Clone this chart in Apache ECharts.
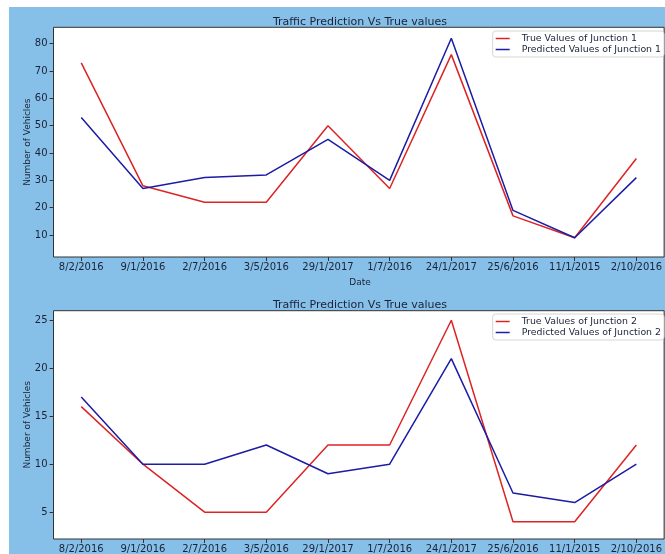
<!DOCTYPE html>
<html>
<head>
<meta charset="utf-8">
<script src="https://cdn.jsdelivr.net/npm/echarts@6/dist/echarts.min.js"></script>
<style>
  html, body { margin: 0; padding: 0; background: #ffffff; }
  #chart { width: 665px; height: 554px; }
</style>
</head>
<body>
<div id="chart"></div>
<script>
// Dates shown along both x axes
const dates = ['8/2/2016', '9/1/2016', '2/7/2016', '3/5/2016', '29/1/2017',
               '1/7/2016', '24/1/2017', '25/6/2016', '11/1/2015', '2/10/2016'];

// Junction 1
const trueJ1 = [73, 28, 22, 22, 50, 27, 76, 17, 9, 38];
const predJ1 = [53, 27, 31, 32, 45, 30, 82, 19, 9, 31];

// Junction 2
const trueJ2 = [16, 10, 5, 5, 12, 12, 25, 4, 4, 12];
const predJ2 = [17, 10, 10, 12, 9, 10, 21, 7, 6, 10];

// Tick values for each y axis
const yTicksJ1 = [10, 20, 30, 40, 50, 60, 70, 80];
const yTicksJ2 = [5, 10, 15, 20, 25];

const chartTitle = 'Traffic Prediction Vs True values';
const yName = 'Number of Vehicles';
const xName = 'Date';

const RED = '#dc2424';
const BLUE = '#1c1ca4';
const TEXT = '#1a2238';
const FONT = 'DejaVu Sans';

const xIdx = dates.map((_, i) => i);
const pairs = vals => vals.map((v, i) => [i, v]);

function xAxis(gridIndex) {
  return {
    type: 'value', gridIndex, min: -0.45, max: 9.45,
    splitLine: { show: false },
    axisLine: { show: false, onZero: false },
    axisTick: { show: true, length: 4, customValues: xIdx, lineStyle: { color: '#333' } },
    axisLabel: {
      customValues: xIdx, formatter: v => dates[Math.round(v)],
      color: TEXT, fontFamily: FONT, fontSize: 10, margin: 5
    }
  };
}

function yAxis(gridIndex, min, max, ticks) {
  return {
    type: 'value', gridIndex, min, max,
    splitLine: { show: false },
    axisLine: { show: false, onZero: false },
    axisTick: { show: true, length: 4, customValues: ticks, lineStyle: { color: '#333' } },
    axisLabel: { customValues: ticks, color: TEXT, fontFamily: FONT, fontSize: 10, margin: 6 },
    name: yName, nameLocation: 'middle', nameGap: 21, nameRotate: 90, nameMoveOverlap: false,
    nameTextStyle: { color: TEXT, fontFamily: FONT, fontSize: 9 }
  };
}

function line(name, data, color, idx) {
  return {
    type: 'line', name, data: pairs(data), xAxisIndex: idx, yAxisIndex: idx,
    showSymbol: false, symbol: 'none', animation: false,
    lineStyle: { color, width: 1.5 }, itemStyle: { color }
  };
}

function legend(top, names) {
  return {
    orient: 'vertical', right: 1, top, data: names,
    icon: 'rect', itemWidth: 14, itemHeight: 1.5, itemGap: 2,
    backgroundColor: '#ffffff', borderColor: '#d6d6d6', borderWidth: 1, borderRadius: 3,
    padding: [3, 3, 3, 3],
    textStyle: { color: TEXT, fontFamily: FONT, fontSize: 9.4, padding: [0, 0, 0, 7] }
  };
}

const chart = echarts.init(document.getElementById('chart'), null, { renderer: 'canvas' });

chart.setOption({
  backgroundColor: '#ffffff',
  animation: false,
  graphic: [{
    type: 'rect', z: -100, silent: true,
    shape: { x: 9, y: 7, width: 656, height: 547 },
    style: { fill: '#86c0e8' }
  }],
  title: [
    { text: chartTitle, left: 355, top: 12, textAlign: 'center',
      textStyle: { color: TEXT, fontFamily: FONT, fontSize: 11, fontWeight: 'normal' } },
    { text: chartTitle, left: 355, top: 295, textAlign: 'center',
      textStyle: { color: TEXT, fontFamily: FONT, fontSize: 11, fontWeight: 'normal' } },
    { text: xName, left: 355, top: 273, textAlign: 'center',
      textStyle: { color: TEXT, fontFamily: FONT, fontSize: 9, fontWeight: 'normal' } }
  ],
  legend: [
    legend(31, ['True Values of Junction 1', 'Predicted Values of Junction 1']),
    legend(314, ['True Values of Junction 2', 'Predicted Values of Junction 2'])
  ],
  grid: [
    { left: 53.5, top: 27.3, width: 612.5, height: 229.7, show: true,
      backgroundColor: '#ffffff', borderColor: '#333', borderWidth: 1 },
    { left: 53.5, top: 310.7, width: 612.5, height: 236.3, show: true,
      backgroundColor: '#ffffff', borderColor: '#333', borderWidth: 1 }
  ],
  xAxis: [xAxis(0), xAxis(1)],
  yAxis: [yAxis(0, 1.95, 86.0, yTicksJ1), yAxis(1, 2.2, 26.0, yTicksJ2)],
  series: [
    line('True Values of Junction 1', trueJ1, RED, 0),
    line('Predicted Values of Junction 1', predJ1, BLUE, 0),
    line('True Values of Junction 2', trueJ2, RED, 1),
    line('Predicted Values of Junction 2', predJ2, BLUE, 1)
  ]
});
</script>
</body>
</html>
